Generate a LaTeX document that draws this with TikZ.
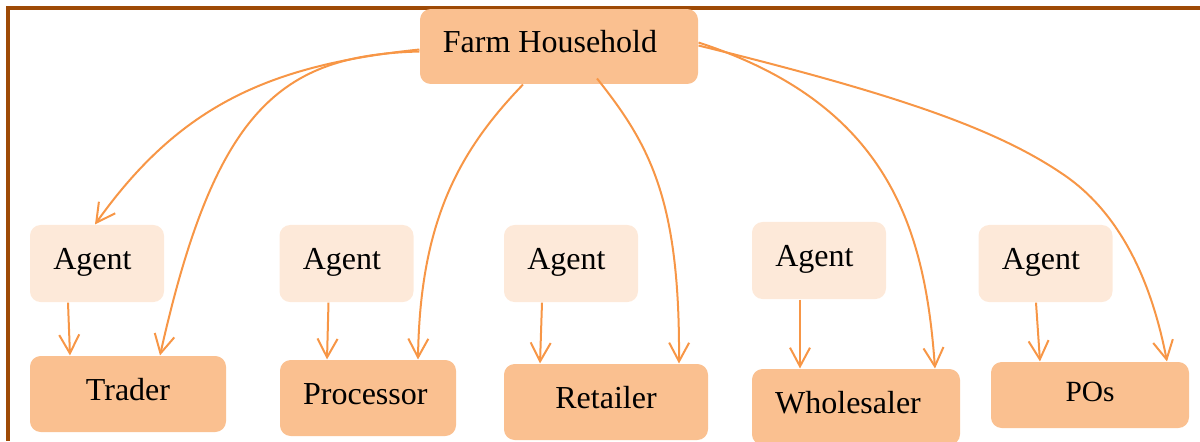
\documentclass[tikz,border=0pt]{standalone}
\usepackage{fontspec}
\setmainfont{Liberation Serif}
\usetikzlibrary{arrows.meta,calc}

\definecolor{boxorange}{HTML}{FAC090}
\definecolor{agentorange}{HTML}{FDE9D9}
\definecolor{linkorange}{HTML}{F79646}
\definecolor{framebrown}{HTML}{9E4A06}

\tikzset{
  actor/.style={fill=boxorange, rounded corners=4pt, inner sep=0pt,
    minimum height=28.5pt, text height=8pt, text depth=3.5pt, font=\fontsize{12}{14}\selectfont},
  agentbox/.style={fill=agentorange, rounded corners=4pt, inner sep=0pt,
    minimum width=50.25pt, minimum height=28.9pt, text height=8pt, text depth=3.5pt,
    font=\fontsize{12}{14}\selectfont},
  link/.style={draw=linkorange, line width=0.75pt,
    -{Straight Barb[length=7pt,width=7.5pt,line width=0.75pt]}}
}

\begin{document}
\begin{tikzpicture}[x=0.375pt,y=-0.375pt]
\useasboundingbox (0,0) rectangle (1200,441);

% Frame round the whole chart
\draw[framebrown, line width=1.2pt] (1200,8) -- (8,8) -- (8,441);

% Farm household at the top
\node[actor, minimum width=104.25pt, minimum height=28.1pt] (farm) at (559,46.5) {\hspace*{-6.75pt}Farm Household};

% Agents in the middle row
\foreach \i/\x/\y in {1/97/263.5, 2/346.5/263.5, 3/571/263.5, 4/819/260.5, 5/1045.5/263.5}
  \node[agentbox] (agent\i) at (\x,\y) {\hspace*{-3.4pt}Agent};

% Buyers in the bottom row
\node[actor, minimum width=73.5pt] (trader) at (128,394) {Trader};
\node[actor, minimum width=66pt] (processor) at (368,398) {\hspace*{-2pt}Processor};
\node[actor, minimum width=76.5pt] (retailer) at (606,402) {Retailer};
\node[actor, minimum width=78pt] (wholesaler) at (856,407) {\hspace*{-6pt}Wholesaler};
\node[actor, minimum width=74.25pt, minimum height=24.75pt,
  font=\fontsize{11}{13}\selectfont] (pos) at (1090,395) {POs};

% Agent to buyer
\draw[link] ($(agent1.south)+(-29,0)$) -- ($(trader.north)+(-58,0)$);
\draw[link] ($(agent2.south)+(-18,0)$) -- ($(processor.north)+(-41,0)$);
\draw[link] ($(agent3.south)+(-29,0)$) -- ($(retailer.north)+(-66,0)$);
\draw[link] ($(agent4.south)+(-19,0)$) -- ($(wholesaler.north)+(-56,0)$);
\draw[link] ($(agent5.south)+(-9.5,0)$) -- ($(pos.north)+(-50,0)$);

% Farm household straight to agent or buyer
\draw[link] ($(farm.west)+(0,3)$) .. controls (270,65) and (180,105) .. ($(agent1.north)+(-2,0)$);
\draw[link] ($(farm.west)+(0,5)$) .. controls (280,55) and (215,110) .. ($(trader.north)+(32,0)$);
\draw[link] ($(farm.south)+(-36,0)$) .. controls (460,150) and (420,220) .. ($(processor.north)+(50,0)$);
\draw[link] ($(farm.south)+(38,-6)$) .. controls (650,145) and (680,200) .. ($(retailer.north)+(73,0)$);
\draw[link] ($(farm.east)+(0,-4)$) .. controls (890,105) and (925,230) .. ($(wholesaler.north)+(79,0)$);
\draw[link] ($(farm.east)+(0,-1)$) .. controls (900,95) and (1000,130) .. (1067,177)
  .. controls (1130,222) and (1155,300) .. ($(pos.north)+(77,0)$);

\end{tikzpicture}
\end{document}
